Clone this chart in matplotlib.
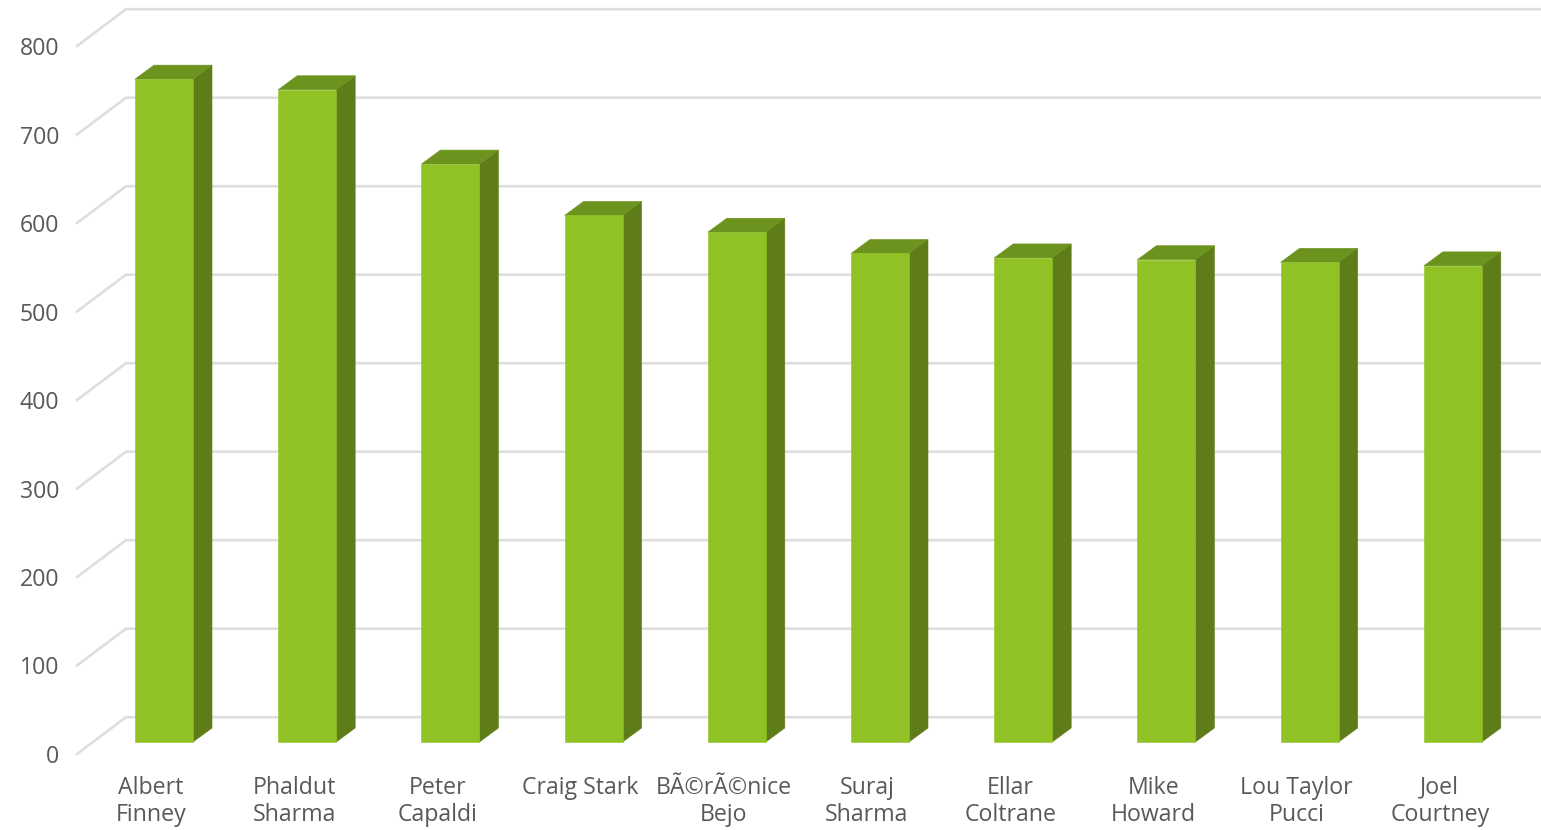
import matplotlib
matplotlib.use("Agg")
import matplotlib.pyplot as plt

names = ["Albert\nFinney", "Phaldut\nSharma", "Peter\nCapaldi", "Craig Stark",
         "BÃ©rÃ©nice\nBejo", "Suraj\nSharma", "Ellar\nColtrane", "Mike\nHoward",
         "Lou Taylor\nPucci", "Joel\nCourtney"]
values = [749, 737, 653, 595, 576, 552, 547, 545, 542, 538]
yticks = [0, 100, 200, 300, 400, 500, 600, 700, 800]

W, H = 1541, 830
LEFT, ZERO, TOP = 77, 754, 46      # plot-frame pixels
X0, STEP = 151, 143.2              # first label centre, category spacing
px_x = 1 / STEP
px_y = 800 / (ZERO - TOP)

TEXT = "#595959"
GRID = "#DEDEDE"
FRONT = "#90C226"
SIDE = "#5E7C18"
ROOF = "#6B931D"

plt.rcParams["font.family"] = ["Open Sans", "DejaVu Sans"]
fig = plt.figure(figsize=(W / 100, H / 100), dpi=100)
ax = fig.add_axes([LEFT / W, 1 - ZERO / H, (W - LEFT) / W, (ZERO - TOP) / H])
ax.set_xlim((LEFT - X0) * px_x, (W - X0) * px_x)
ax.set_ylim(0, 800)
for s in ax.spines.values():
    s.set_visible(False)

# walls: gridlines run back from the front edge, then across the back wall
gdx, gdy = 49 * px_x, 36.8 * px_y
xl = ax.get_xlim()
for v in yticks:
    ax.plot([xl[0], xl[0] + gdx, xl[1]], [v, v + gdy, v + gdy], color=GRID, lw=1.9,
            clip_on=False, zorder=1, solid_joinstyle="miter")

# bars: front face, side and roof
bw = 58 * px_x
cx = 13 * px_x
floor = 12 * px_y
dx, dy = 19 * px_x, 14 * px_y
for i, v in enumerate(values):
    l, r = i + cx - bw / 2, i + cx + bw / 2
    b, t = floor, floor + v
    ax.fill([r, r + dx, r + dx, r], [b, b + dy, t + dy, t], color=SIDE, lw=0.4, clip_on=False, zorder=3)
    ax.fill([l, l + dx, r + dx, r], [t, t + dy, t + dy, t], color=ROOF, lw=0.4, clip_on=False, zorder=3)
    ax.bar(i + cx, v, bottom=b, width=bw, color=FRONT, edgecolor=FRONT, lw=0.4, zorder=4)

ax.set_yticks(yticks)
ax.set_xticks(range(len(names)))
ax.set_xticklabels(names, fontsize=16.7, color=TEXT, linespacing=1.22)
ax.tick_params(axis="x", length=0, pad=15.5)
ax.tick_params(axis="y", length=0, pad=13, labelsize=16.7, labelcolor=TEXT)

fig.savefig("out.png", dpi=100)
